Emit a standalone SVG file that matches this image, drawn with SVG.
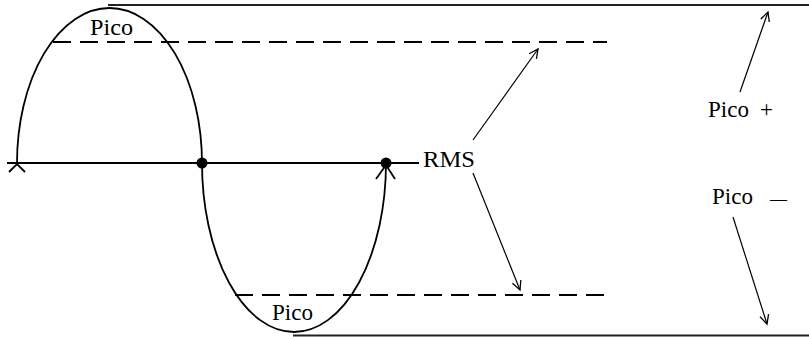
<svg xmlns="http://www.w3.org/2000/svg" width="809" height="337" viewBox="0 0 809 337">
<style>
.t{font-family:"Liberation Serif","Times New Roman",serif;font-size:23px;fill:#000}
.curve{fill:none;stroke:#000;stroke-width:1.8}
.solid{stroke:#222;stroke-width:2;fill:none}
.dash{stroke:#000;stroke-width:2;stroke-dasharray:18 9;fill:none}
.arr{stroke:#000;stroke-width:1.2;fill:none;marker-end:url(#ah)}
</style>
<defs>
<marker id="ah" markerUnits="userSpaceOnUse" markerWidth="14" markerHeight="14" viewBox="-12 -7 14 14" refX="0" refY="0" orient="auto">
<path d="M-9,-4.5 L0,0 L-9,4.5" fill="none" stroke="#000" stroke-width="1.3"/>
</marker>
</defs>
<rect width="809" height="337" fill="#fff"/>
<g id="reference-lines">
<line class="solid" x1="108" y1="5" x2="809" y2="5"/>
<line class="solid" x1="293" y1="335.5" x2="809" y2="335.5"/>
<line class="dash" x1="53" y1="42" x2="607" y2="42"/>
<line class="dash" x1="235" y1="295" x2="607" y2="295"/>
</g>
<g id="axis">
<line x1="7" y1="163" x2="419" y2="163" stroke="#000" stroke-width="2"/>
</g>
<g id="wave">
<path class="curve" d="M17,163 A92.5,155 0 0 1 202,163"/>
<path class="curve" d="M202,163 A92,169 0 0 0 386,163"/>
<path class="curve" d="M9,172 L17,164 L25,172"/>
<path class="curve" d="M376,179 L386,165 L395,179"/>
<circle cx="202" cy="163" r="5.5" fill="#000"/>
<circle cx="386" cy="163" r="5.5" fill="#000"/>
</g>
<g id="label-pico-top"><text class="t" x="90" y="35" textLength="43" lengthAdjust="spacingAndGlyphs">Pico</text></g>
<g id="label-pico-bottom"><text class="t" x="272" y="320" textLength="41" lengthAdjust="spacingAndGlyphs">Pico</text></g>
<g id="label-rms"><text class="t" x="423" y="167" textLength="52" lengthAdjust="spacingAndGlyphs">RMS</text></g>
<g id="label-pico-plus"><text class="t" x="708" y="117">Pico<tspan x="760">+</tspan></text></g>
<g id="label-pico-minus"><text class="t" x="712" y="204">Pico<tspan x="770" style="font-size:17px">—</tspan></text></g>
<g id="connectors">
<line class="arr" x1="473" y1="140" x2="538" y2="49"/>
<line class="arr" x1="473" y1="173" x2="520" y2="290"/>
<line class="arr" x1="740" y1="92" x2="768" y2="12"/>
<line class="arr" x1="733" y1="217" x2="767" y2="324"/>
</g>
</svg>
